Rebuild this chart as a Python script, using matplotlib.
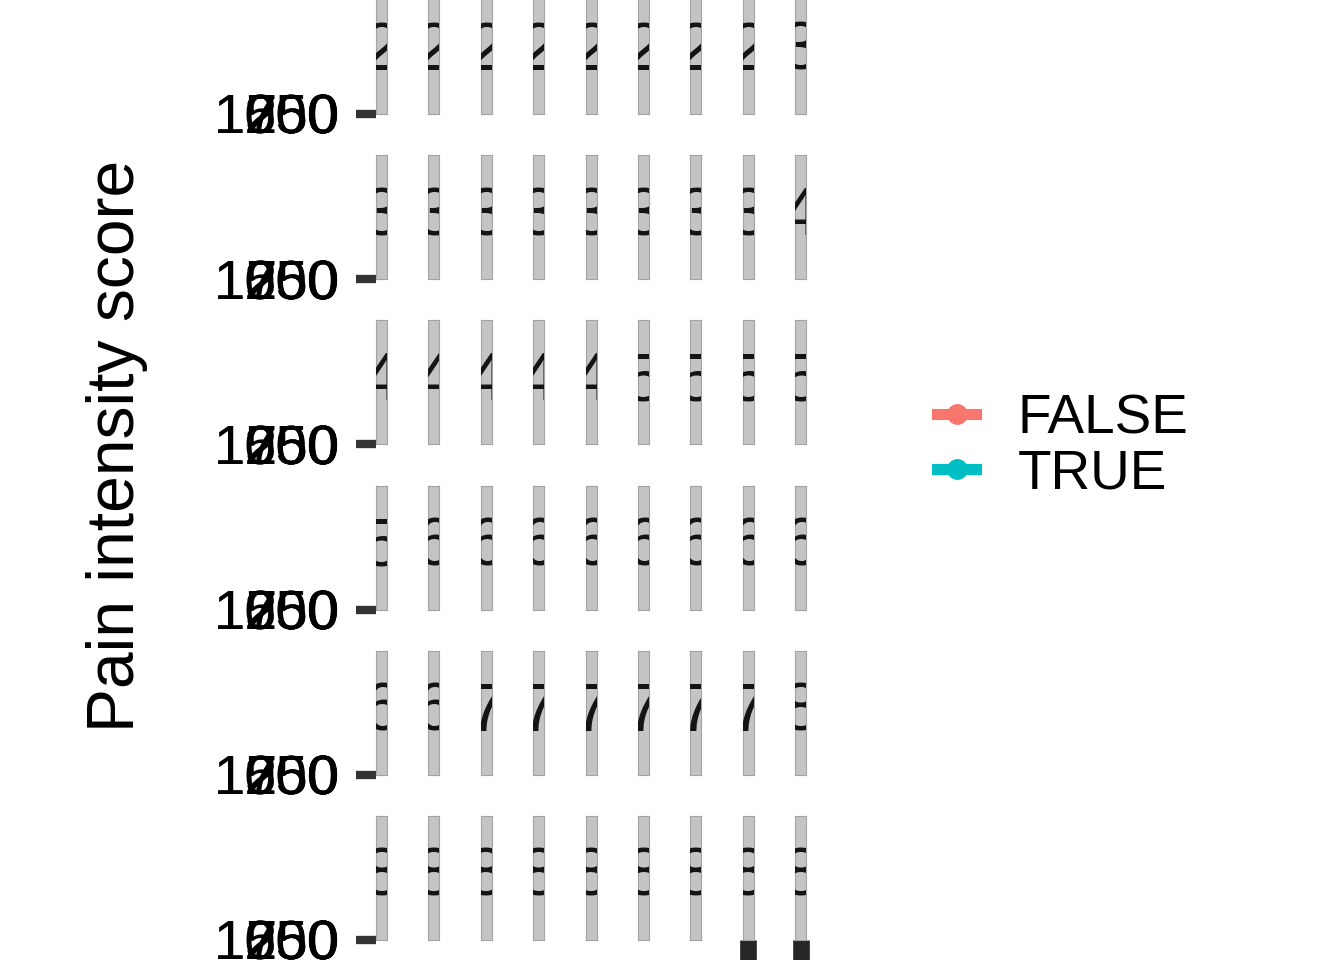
import matplotlib
matplotlib.use("Agg")
import matplotlib.pyplot as plt
from matplotlib.lines import Line2D

plt.rcParams['font.family'] = ['Liberation Sans', 'DejaVu Sans']

# ---- data ----
strip_labels = [
    ["2", "2", "2", "2", "2", "2", "2", "2", "3"],
    ["3", "3", "3", "3", "3", "3", "3", "3", "4"],
    ["4", "4", "4", "4", "4", "5", "5", "5", "5"],
    ["5", "6", "6", "6", "6", "6", "6", "6", "6"],
    ["6", "6", "7", "7", "7", "7", "7", "7", "8"],
    ["8", "8", "8", "8", "8", "8", "8", "8", "8"],
]
y_tick_labels = ["0", "250", "500", "750", "1000", "1250"]
legend_labels = ["FALSE", "TRUE"]
legend_colors = ["#F8766D", "#00BFC4"]
y_title = "Pain intensity score"
bottom_tick_cols = [7, 8]

W, H = 1344, 960
fig = plt.figure(figsize=(W / 100, H / 100), dpi=100)

x0, dx, sw = 376, 52.4, 11
y0, dy, sh = -10, 165.2, 124

nrows = len(strip_labels)
for r, row in enumerate(strip_labels):
    for c, lab in enumerate(row):
        left = x0 + c * dx
        top = y0 + r * dy
        ax = fig.add_axes([left / W, 1 - (top + sh) / H, sw / W, sh / H])
        ax.set_facecolor("#C4C4C4")
        for s in ax.spines.values():
            s.set_color("#A3A3A3")
            s.set_linewidth(0.8)
        ax.set_xlim(0, 1)
        ax.set_ylim(0, 1)
        ax.text(0.5, 0.5, lab, transform=ax.transAxes, ha="center", va="center",
                fontsize=49, color="#141414", clip_on=True)
        if c == 0:
            # all tick positions collapse onto the same pixel row
            pos = [i * 1e-7 for i in range(len(y_tick_labels))]
            ax.set_yticks(pos, y_tick_labels)
            ax.tick_params(axis="y", length=14.5, width=5.8, color="#333333",
                           pad=12, labelsize=40.5, labelcolor="black")
        else:
            ax.set_yticks([])
        if r == nrows - 1 and c in bottom_tick_cols:
            ax.set_xticks([0.5], [""])
            ax.tick_params(axis="x", length=20, width=12, color="#262626")
        else:
            ax.set_xticks([])

fig.text(117 / W, 1 - 446 / H, y_title, rotation=90, ha="center", va="center",
         fontsize=47.5, color="black")

handles = [Line2D([], [], color=col, linewidth=8, marker="o", markersize=14)
           for col in legend_colors]
fig.legend(handles, legend_labels, loc="center left",
           bbox_to_anchor=(915 / W, 1 - 447 / H), frameon=False, fontsize=39.5,
           handlelength=0.72, handletextpad=0.75, labelspacing=0.05, borderaxespad=0)

fig.savefig("out.png", dpi=100, facecolor="white")
